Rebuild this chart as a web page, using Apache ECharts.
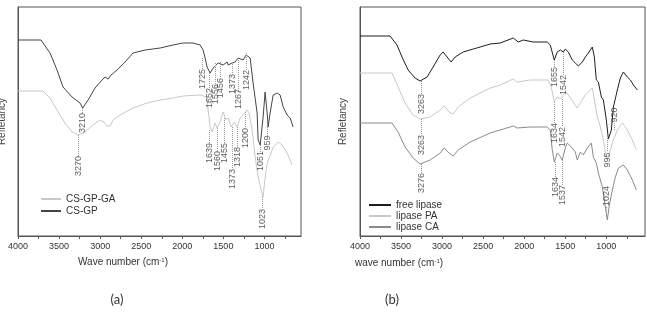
<!DOCTYPE html>
<html>
<head>
<meta charset="utf-8">
<script src="https://cdn.jsdelivr.net/npm/echarts@6/dist/echarts.min.js"></script>
<style>
html, body {margin: 0; padding: 0; background: #fff;}
#chart {width: 647px; height: 312px;}
</style>
</head>
<body>
<div id="chart"></div>
<script>
// wavenumber axis
const tickLabels = [4000, 3500, 3000, 2500, 2000, 1500, 1000];
const tickMarks = [4000, 3750, 3500, 3250, 3000, 2750, 2500, 2250, 2000, 1750, 1500, 1250, 1000, 750];

// (a) spectra, [wavenumber, reflectance a.u.]
const csgpga = [[4000,145],[3696,145],[3610,138],[3525,126],[3428,113],[3342,104],[3269,101],[3184,104],[3087,111],[3001,116],[2953,114],[2916,110],[2879,110],[2843,116],[2758,121],[2599,128],[2429,133],[2270,136],[2112,138],[1990,140],[1783,141],[1698,139],[1686,126],[1661,109],[1637,104],[1601,113],[1576,108],[1540,114],[1503,124],[1467,116],[1442,118],[1406,109],[1369,114],[1332,109],[1296,118],[1260,121],[1211,126],[1187,123],[1150,106],[1113,79],[1077,59],[1040,46],[1016,39],[1004,49],[980,66],[955,76],[919,83],[894,89],[833,94],[785,91],[724,83],[663,71]];
const csgp = [[4000,196],[3720,196],[3610,183],[3525,166],[3452,149],[3342,139],[3245,133],[3212,128],[3147,136],[3062,148],[2977,156],[2940,159],[2920,157],[2904,157],[2885,159],[2867,161],[2794,166],[2697,174],[2599,183],[2453,186],[2270,188],[2112,191],[1990,193],[1869,193],[1783,191],[1747,186],[1722,178],[1698,169],[1661,163],[1625,168],[1564,173],[1540,174],[1503,171],[1454,174],[1442,171],[1394,173],[1357,174],[1320,178],[1296,179],[1260,176],[1223,181],[1211,183],[1174,178],[1138,153],[1089,123],[1077,96],[1052,91],[1016,119],[992,144],[967,123],[955,109],[931,123],[894,141],[870,139],[846,143],[809,141],[772,129],[724,121],[687,118],[651,109]];

// (b) spectra
const freeLipase = [[4000,200],[3634,200],[3549,191],[3488,179],[3414,166],[3329,158],[3268,155],[3183,159],[3109,169],[3024,181],[2987,184],[2939,179],[2890,174],[2841,179],[2743,184],[2536,189],[2414,192],[2292,193],[2133,198],[2072,194],[2011,196],[1889,194],[1719,194],[1682,191],[1633,176],[1597,184],[1560,186],[1523,184],[1499,187],[1462,184],[1414,176],[1377,173],[1340,170],[1292,174],[1255,179],[1218,183],[1170,189],[1145,179],[1121,156],[1096,154],[1060,139],[1035,136],[999,116],[974,97],[938,106],[913,129],[865,146],[828,158],[791,164],[743,159],[706,156],[669,151],[621,146]];
const lipasePA = [[4000,163],[3610,163],[3536,149],[3451,133],[3353,121],[3268,117],[3146,119],[3024,126],[2975,130],[2914,124],[2865,122],[2804,129],[2658,138],[2414,148],[2292,151],[2133,157],[2085,154],[1926,156],[1706,156],[1670,149],[1633,134],[1597,139],[1560,137],[1523,141],[1487,144],[1438,138],[1401,134],[1353,128],[1316,133],[1255,141],[1218,144],[1170,148],[1145,136],[1109,119],[1084,113],[1035,96],[1011,83],[987,76],[962,83],[913,96],[865,106],[804,113],[743,106],[682,96],[633,86]];
const lipaseCA = [[4000,113],[3610,113],[3536,104],[3451,89],[3353,78],[3268,72],[3146,76],[3024,83],[2975,88],[2914,83],[2865,80],[2804,86],[2658,94],[2414,103],[2292,106],[2133,110],[2085,108],[1926,109],[1719,109],[1682,106],[1658,86],[1633,74],[1597,83],[1572,81],[1536,76],[1499,88],[1475,93],[1414,88],[1377,84],[1353,76],[1316,84],[1280,81],[1231,88],[1182,93],[1157,79],[1121,73],[1096,63],[1048,49],[1023,36],[987,16],[962,31],[926,46],[889,59],[852,68],[791,71],[743,66],[682,56],[633,46]];

// peak labels: [text, wavenumber, line start, line end, label centre]
const peaksA = [
  ['1725', 1759, 178, 166, 157], ['1652', 1674, 163, 146, 138], ['1556', 1601, 173, 150, 142],
  ['1456', 1540, 174, 156, 148], ['1373', 1394, 174, 160, 152], ['1267', 1320, 176, 145, 137],
  ['1242', 1223, 183, 165, 156], ['1639', 1674, 106, 91, 83], ['1560', 1576, 108, 83, 75],
  ['1455', 1491, 118, 91, 83], ['1373', 1394, 109, 66, 57], ['1318', 1333, 109, 88, 79],
  ['1200', 1235, 124, 106, 98], ['1051', 1052, 91, 84, 75], ['959', 967, 109, 99, 93],
  ['1023', 1028, 39, 26, 17], ['3210', 3220, 128, 122, 113], ['3270', 3269, 101, 80, 70]
];
const peaksB = [
  ['3263', 3256, 155, 141, 132], ['3263', 3256, 117, 101, 91], ['3276', 3256, 72, 63, 53],
  ['1655', 1633, 176, 169, 159], ['1542', 1523, 184, 161, 151], ['1634', 1633, 134, 113, 103],
  ['1542', 1536, 137, 109, 99], ['1634', 1621, 74, 58, 49], ['1537', 1536, 76, 51, 41],
  ['920', 901, 106, 114, 121], ['995', 987, 98, 84, 76], ['1024', 999, 18, 30, 40]
];

const chart = echarts.init(document.getElementById('chart'));

function waveAxis(gridIndex, min) {
  return {
    type: 'value', gridIndex: gridIndex, min: min, max: 4000, inverse: true,
    axisLine: {show: true, onZero: false, lineStyle: {color: '#555', width: 1}},
    axisTick: {show: true, length: 3, customValues: tickMarks, lineStyle: {color: '#555'}},
    axisLabel: {customValues: tickLabels, formatter: v => String(v), fontSize: 9, color: '#333',
      margin: 6, fontFamily: 'Liberation Sans'},
    splitLine: {show: false}
  };
}

function reflAxis(gridIndex, gap) {
  return {
    type: 'value', gridIndex: gridIndex, min: 0, max: 229,
    axisLine: {show: true, lineStyle: {color: '#555', width: 1}},
    axisTick: {show: false}, axisLabel: {show: false}, splitLine: {show: false},
    name: 'Refletancy', nameLocation: 'middle', nameGap: gap,
    nameTextStyle: {fontSize: 10, color: '#444', fontFamily: 'Liberation Sans'}
  };
}

function spectrum(name, data, idx, color) {
  return {
    name: name, type: 'line', xAxisIndex: idx, yAxisIndex: idx, data: data,
    symbol: 'none', lineStyle: {color: color, width: 1}, itemStyle: {color: color},
    silent: true, z: 3
  };
}

function peakSeries(peaks, idx) {
  return {
    type: 'scatter', xAxisIndex: idx, yAxisIndex: idx, symbolSize: 1, silent: true,
    itemStyle: {color: 'rgba(0,0,0,0)'},
    data: peaks.map(p => ({name: p[0], value: [p[1], p[4]]})),
    label: {show: true, position: 'inside', rotate: 90, formatter: '{b}', fontSize: 9,
      color: '#333', fontFamily: 'Liberation Sans'},
    markLine: {
      silent: true, symbol: ['none', 'none'], label: {show: false},
      lineStyle: {type: 'dotted', color: '#999', width: 1},
      data: peaks.map(p => [{coord: [p[1], p[2]]}, {coord: [p[1], p[3]]}])
    },
    z: 4
  };
}

const titleFont = '10px "Liberation Sans"';
const legendText = {fontSize: 10, color: '#333', fontFamily: 'Liberation Sans'};

chart.setOption({
  animation: false,
  grid: [
    {left: 18, right: 346, top: 7, bottom: 76, show: true, borderColor: '#555', borderWidth: 1,
      outerBoundsMode: 'none', containLabel: false},
    {left: 360, right: 2, top: 7, bottom: 76, show: true, borderColor: '#555', borderWidth: 1,
      outerBoundsMode: 'none', containLabel: false}
  ],
  xAxis: [waveAxis(0, 555), waveAxis(1, 528)],
  yAxis: [reflAxis(0, 11), reflAxis(1, 12)],
  legend: [
    {data: ['CS-GP-GA', 'CS-GP'], orient: 'vertical', left: 35, top: 189, itemWidth: 20, itemHeight: 12,
      itemGap: 2, itemStyle: {opacity: 0}, textStyle: legendText},
    {data: ['free lipase', 'lipase PA', 'lipase CA'], orient: 'vertical', left: 363, top: 195, itemWidth: 22,
      itemHeight: 12, itemGap: 1, itemStyle: {opacity: 0}, textStyle: legendText}
  ],
  graphic: [
    {type: 'text', x: 123, y: 262, style: {text: 'Wave number (cm{s|-1})', font: titleFont, fill: '#333',
      align: 'center', verticalAlign: 'middle', rich: {s: {fontSize: 6, verticalAlign: 'top', fill: '#333'}}}},
    {type: 'text', x: 399, y: 263, style: {text: 'wave number (cm{s|-1})', font: titleFont, fill: '#333',
      align: 'center', verticalAlign: 'middle', rich: {s: {fontSize: 6, verticalAlign: 'top', fill: '#333'}}}},
    {type: 'text', x: 117, y: 300, style: {text: '(a)', font: '13px Lato', fill: '#333', align: 'center', verticalAlign: 'middle'}},
    {type: 'text', x: 392, y: 300, style: {text: '(b)', font: '13px Lato', fill: '#333', align: 'center', verticalAlign: 'middle'}}
  ],
  series: [
    spectrum('CS-GP-GA', csgpga, 0, '#c8c8c8'),
    spectrum('CS-GP', csgp, 0, '#444'),
    peakSeries(peaksA, 0),
    spectrum('free lipase', freeLipase, 1, '#1e1e1e'),
    spectrum('lipase PA', lipasePA, 1, '#c8c8c8'),
    spectrum('lipase CA', lipaseCA, 1, '#8a8a8a'),
    peakSeries(peaksB, 1)
  ]
});
</script>
</body>
</html>
